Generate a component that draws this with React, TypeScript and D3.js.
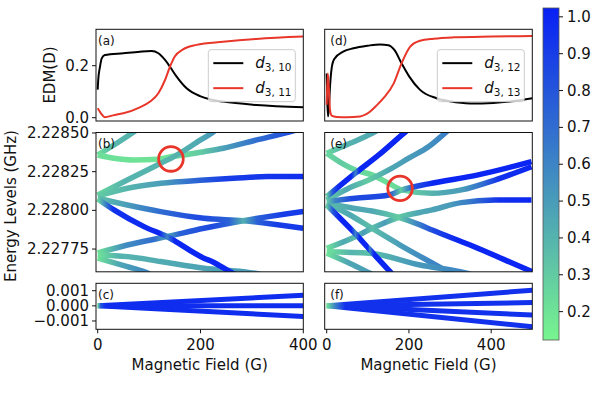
import React from "react";
import * as d3 from "d3";

type Pt = [number, number];

// EDM (D) against magnetic field (G) -- panels (a) and (d)
const d310: Pt[] = [[0, 0.108], [1.2, 0.15], [4.5, 0.196], [7.8, 0.228], [14, 0.241], [50, 0.248], [82, 0.254], [105, 0.2565], [118, 0.248], [131, 0.222], [140.6, 0.196], [153.6, 0.158], [173, 0.113], [199, 0.083], [218, 0.071], [244, 0.062], [309, 0.049], [400, 0.04]];
const d311: Pt[] = [[0, 0.036], [6, 0.018], [14, 0.002], [30, 0.009], [50, 0.017], [82, 0.04], [102, 0.062], [118, 0.094], [131, 0.145], [140.6, 0.196], [150, 0.235], [166, 0.263], [192, 0.28], [244, 0.292], [309, 0.303], [400, 0.312]];
const d312: Pt[] = [[0, 0.17], [1.5, 0.06], [3, 0.005], [5, 0.03], [8, 0.12], [12, 0.19], [18, 0.225], [40, 0.254], [65, 0.267], [100, 0.277], [130, 0.282], [150, 0.279], [165, 0.26], [182, 0.209], [200, 0.16], [227, 0.107], [267, 0.075], [300, 0.063], [349, 0.055], [405, 0.057], [450, 0.063], [500, 0.075]];
const d313: Pt[] = [[0, 0.05], [2.5, 0.17], [5, 0.12], [8, 0.03], [12, 0.008], [24, 0.003], [50, 0.002], [81, 0.005], [105, 0.023], [120, 0.045], [138, 0.075], [163, 0.132], [182, 0.209], [203, 0.273], [227, 0.296], [260, 0.304], [308, 0.309], [400, 0.312], [500, 0.314]];

// energy levels (GHz) vs field (G), panel (b); every level has a colour track [G, value]
const b1: Pt[] = [[0, 2.228358], [30, 2.228419], [60, 2.228484], [90, 2.228552]];
const b1c: Pt[] = [[0, 0.22], [30, 0.38], [90, 0.42]];
const b2: Pt[] = [[0, 2.228358], [31.7, 2.228337], [70.6, 2.228326], [115.9, 2.22833], [141.9, 2.228347], [167.8, 2.228358], [206.9, 2.228379], [244.2, 2.228401], [309.2, 2.228455], [373.9, 2.228508], [393.4, 2.228526]];
const b2c: Pt[] = [[0, 0.22], [70, 0.2], [140, 0.2], [200, 0.3], [250, 0.5], [310, 0.7], [390, 0.85]];
const b3: Pt[] = [[0, 2.228099], [57.6, 2.228196], [122.5, 2.228304], [148.4, 2.228347], [200.3, 2.228455], [222.2, 2.2285], [237.8, 2.228539]];
const b3c: Pt[] = [[0, 0.25], [50, 0.4], [150, 0.4], [200, 0.45], [237, 0.55]];
const b4: Pt[] = [[0, 2.228093], [58, 2.228143], [123, 2.228175], [208, 2.228196], [264, 2.228207], [329, 2.228218], [400, 2.228219]];
const b4c: Pt[] = [[0, 0.3], [60, 0.4], [130, 0.5], [180, 0.7], [250, 0.9], [400, 0.97]];
const b5: Pt[] = [[0, 2.228078], [57.6, 2.228035], [122.5, 2.227992], [206.7, 2.227949], [283.1, 2.227933], [399.8, 2.227884]];
const b5c: Pt[] = [[0, 0.35], [60, 0.5], [120, 0.7], [200, 0.85], [255, 0.75], [283, 0.42], [310, 0.75], [350, 0.9], [400, 0.92]];
const b6: Pt[] = [[0, 2.227725], [57.6, 2.227776], [135.3, 2.227831], [206.7, 2.227884], [283.1, 2.227933], [399.8, 2.227992]];
const b6c: Pt[] = [[0, 0.2], [50, 0.55], [110, 0.7], [135, 0.45], [160, 0.75], [220, 0.85], [255, 0.75], [283, 0.42], [310, 0.75], [360, 0.9], [400, 0.92]];
const b7: Pt[] = [[0, 2.228074], [31.7, 2.228003], [90, 2.227895], [135.3, 2.22783], [206.7, 2.227691], [224.3, 2.227667], [257.3, 2.227604], [276.7, 2.22757]];
const b7c: Pt[] = [[0, 0.25], [15, 0.6], [30, 0.95], [120, 1], [135, 0.6], [150, 1], [277, 1]];
const b8: Pt[] = [[0, 2.227712], [57.6, 2.227701], [122.5, 2.227669], [206.7, 2.227626], [283.1, 2.227604], [315.6, 2.227589]];
const b8c: Pt[] = [[0, 0.2], [40, 0.4], [150, 0.45], [300, 0.5]];
const b9: Pt[] = [[0, 2.227691], [57.6, 2.227636], [90, 2.227604], [101.7, 2.227589]];
const b9c: Pt[] = [[0, 0.2], [40, 0.45], [100, 0.6]];

// panel (e)
const e1: Pt[] = [[0, 2.228369], [56.7, 2.228433], [110.3, 2.228498], [129.7, 2.228526]];
const e1c: Pt[] = [[0, 0.25], [40, 0.4], [130, 0.45]];
const e2: Pt[] = [[0, 2.228369], [37.2, 2.228304], [69.6, 2.228261], [110.3, 2.228229], [150.9, 2.228175], [183.3, 2.228132], [256.3, 2.22811], [327.7, 2.228132], [409, 2.228196], [498, 2.228282]];
const e2c: Pt[] = [[0, 0.25], [37, 0.3], [70, 0.25], [150, 0.22], [183, 0.25], [230, 0.35], [280, 0.45], [330, 0.5], [380, 0.7], [420, 0.95], [498, 1]];
const e3: Pt[] = [[0, 2.228088], [69.6, 2.22824], [126.6, 2.228358], [187.4, 2.228498], [202.8, 2.228532]];
const e3c: Pt[] = [[0, 0.3], [15, 0.8], [30, 1], [60, 1], [70, 0.6], [80, 1], [203, 1]];
const e4: Pt[] = [[0, 2.228067], [53.6, 2.228143], [102.2, 2.228196], [150.9, 2.228261], [199.6, 2.228337], [248.3, 2.228412], [287.2, 2.228498], [305, 2.228539]];
const e4c: Pt[] = [[0, 0.3], [50, 0.45], [102, 0.3], [150, 0.45], [250, 0.55], [305, 0.65]];
const e5: Pt[] = [[0, 2.228056], [69.6, 2.228078], [150.9, 2.228099], [183.3, 2.228132], [247.6, 2.228171], [368.3, 2.228229], [498, 2.228315]];
const e5c: Pt[] = [[0, 0.3], [20, 0.6], [60, 0.85], [150, 0.85], [180, 0.3], [210, 0.8], [260, 1], [498, 1]];
const e7: Pt[] = [[0, 2.228046], [64.8, 2.228014], [110.3, 2.227996], [175.3, 2.227955], [227.1, 2.227906], [256.3, 2.227873], [348.8, 2.227776], [490, 2.227615], [507, 2.227596]];
const e7c: Pt[] = [[0, 0.35], [60, 0.45], [110, 0.45], [175, 0.3], [220, 0.6], [260, 0.85], [320, 1], [507, 1]];
const e8: Pt[] = [[0, 2.227755], [69.6, 2.22783], [110.3, 2.227884], [175.3, 2.227955], [256.3, 2.228003], [327, 2.22805], [409, 2.228067], [498, 2.228067]];
const e8c: Pt[] = [[0, 0.2], [40, 0.45], [70, 0.35], [90, 0.5], [110, 0.35], [140, 0.5], [175, 0.3], [220, 0.45], [300, 0.5], [350, 0.65], [420, 0.95], [498, 1]];
const e9: Pt[] = [[0, 2.228035], [64.8, 2.227862], [105.4, 2.227744], [154.1, 2.227604], [168.7, 2.227563]];
const e9c: Pt[] = [[0, 0.3], [15, 0.8], [30, 1], [60, 1], [70, 0.6], [80, 1], [100, 1], [105, 0.6], [115, 1], [169, 1]];
const e10: Pt[] = [[0, 2.227733], [105.4, 2.227723], [227.1, 2.227647], [324.5, 2.227604], [348.8, 2.227589]];
const e10c: Pt[] = [[0, 0.2], [60, 0.4], [105, 0.35], [200, 0.5], [340, 0.6]];
const e11: Pt[] = [[0, 2.227723], [64.8, 2.227647], [97.4, 2.227604], [110.3, 2.227589]];
const e11c: Pt[] = [[0, 0.2], [50, 0.45], [110, 0.5]];
const e13: Pt[] = [[0, 2.228046], [56.7, 2.22797], [110.3, 2.227884], [178.4, 2.227776], [256.3, 2.22766], [295.2, 2.227604], [305, 2.227589]];
const e13c: Pt[] = [[0, 0.35], [56, 0.45], [110, 0.35], [180, 0.5], [256, 0.6], [305, 0.6]];

// hyperfine splitting around zero (GHz), panels (c) and (f)
const c1: Pt[] = [[0, 0], [400, 0.0007]];
const c2: Pt[] = [[0, 0], [400, 0]];
const c3: Pt[] = [[0, 0], [400, -0.0007]];
const cCol: Pt[] = [[0, 0.25], [6, 0.8], [15, 0.97]];
const f1: Pt[] = [[0, 0], [500, 0.00103]];
const f2: Pt[] = [[0, 0], [500, 0.00022]];
const f3: Pt[] = [[0, 0], [500, -0.00061]];
const f4: Pt[] = [[0, 0], [500, -0.00138]];
const fCol: Pt[] = [[0, 0.2], [20, 0.6], [45, 0.95]];

const levelsB: [Pt[], Pt[]][] = [[b1, b1c], [b2, b2c], [b3, b3c], [b4, b4c], [b5, b5c], [b6, b6c], [b8, b8c], [b9, b9c], [b7, b7c]];
const levelsE: [Pt[], Pt[]][] = [[e1, e1c], [e2, e2c], [e4, e4c], [e13, e13c], [e10, e10c], [e11, e11c], [e8, e8c], [e7, e7c], [e5, e5c], [e3, e3c], [e9, e9c]];
const levelsC: [Pt[], Pt[]][] = [[c1, cCol], [c2, cCol], [c3, cCol]];
const levelsF: [Pt[], Pt[]][] = [[f1, fCol], [f2, fCol], [f3, fCol], [f4, fCol]];

// marked avoided crossings
const circleB: Pt = [142.5, 2.228332];
const circleE: Pt = [178.4, 2.228142];

const edmTicks = [0, 0.2];
const energyTicks = [2.22775, 2.228, 2.22825, 2.2285];
const smallTicks = [-0.001, 0, 0.001];
const fieldTicks = [0, 200, 400];
const cbarTicks = [0.2, 0.3, 0.4, 0.5, 0.6, 0.7, 0.8, 0.9, 1.0];

const FONT = "'DejaVu Sans', sans-serif";
const FS = 15;
const RED = "#e8372a";
const VMIN = 0.123;
const VMAX = 1.024;

const cmap = d3
  .scaleLinear<string>()
  .domain([VMIN, VMAX])
  .range(["#78f58e", "#0820f5"])
  .interpolate(d3.interpolateRgb)
  .clamp(true);

function Levels({ id, lines, x, y, sw }: any) {
  const gen = d3
    .line<Pt>()
    .x((d) => x(d[0]))
    .y((d) => y(d[1]))
    .curve(d3.curveMonotoneX);
  return (
    <g>
      <defs>
        {lines.map(([, col]: [Pt[], Pt[]], i: number) => {
          const x1 = x(col[0][0]);
          const x2 = x(col[col.length - 1][0]);
          return (
            <linearGradient key={i} id={`${id}${i}`} gradientUnits="userSpaceOnUse" x1={x1} x2={x2} y1={0} y2={0}>
              {col.map(([g, v], j) => (
                <stop key={j} offset={(x(g) - x1) / (x2 - x1)} stopColor={cmap(v)} />
              ))}
            </linearGradient>
          );
        })}
      </defs>
      {lines.map(([pts]: [Pt[], Pt[]], i: number) => (
        <path key={i} d={gen(pts) || ""} fill="none" stroke={`url(#${id}${i})`} strokeWidth={sw} />
      ))}
    </g>
  );
}

function Frame({ x, y }: any) {
  const [x0, x1] = x.range();
  const [y1, y0] = y.range();
  return <rect x={x0} y={y0} width={x1 - x0} height={y1 - y0} fill="none" stroke="#111" strokeWidth={1} />;
}

function YTicks({ x, y, ticks, fmt }: any) {
  const x0 = x.range()[0];
  return (
    <g>
      {ticks.map((t: number) => (
        <g key={t}>
          <line x1={x0 - 4} x2={x0} y1={y(t)} y2={y(t)} stroke="#111" strokeWidth={1} />
          <text x={x0 - 7} y={y(t)} textAnchor="end" dominantBaseline="central" fontSize={FS}>
            {fmt(t)}
          </text>
        </g>
      ))}
    </g>
  );
}

function XTicks({ x, y }: any) {
  const yb = y.range()[0];
  return (
    <g>
      {fieldTicks.map((t) => (
        <g key={t}>
          <line x1={x(t)} x2={x(t)} y1={yb} y2={yb + 4} stroke="#111" strokeWidth={1} />
          <text x={x(t)} y={yb + 20.5} textAnchor="middle" fontSize={FS}>
            {t}
          </text>
        </g>
      ))}
      <text x={(x.range()[0] + x.range()[1]) / 2} y={370} textAnchor="middle" fontSize={FS}>
        Magnetic Field (G)
      </text>
    </g>
  );
}

function Legend({ x, y, names }: any) {
  const right = x.range()[1] - 8;
  const cy = (y.range()[0] + y.range()[1]) / 2;
  const w = 87;
  const h = 52;
  const bx = right - w;
  const by = cy - h / 2 + 0.5;
  const cols = ["#000", RED];
  return (
    <g>
      <rect x={bx} y={by} width={w} height={h} rx={3} fill="#fff" fillOpacity={0.8} stroke="#ccc" strokeWidth={1} />
      {names.map((n: string, i: number) => {
        const ly = by + 13.5 + i * 25;
        return (
          <g key={n}>
            <line x1={bx + 5} x2={bx + 35} y1={ly} y2={ly} stroke={cols[i]} strokeWidth={2} />
            <text x={bx + 47} y={ly + 5} fontSize={FS}>
              <tspan fontStyle="italic">d</tspan>
              <tspan dy={3} fontSize={10.5}>{n}</tspan>
            </text>
          </g>
        );
      })}
    </g>
  );
}

export default function App() {
  const xL = d3.scaleLinear().domain([-3.3, 400]).range([96, 303.3]);
  const xR = d3.scaleLinear().domain([-4.9, 500]).range([324.7, 532.3]);
  const yA = d3.scaleLinear().domain([-0.0127, 0.34]).range([121, 29.3]);
  const yB = d3.scaleLinear().domain([2.227603, 2.228503]).range([271.8, 132.5]);
  const yC = d3.scaleLinear().domain([-0.00155, 0.00149]).range([329.3, 283.3]);
  const yCb = d3.scaleLinear().domain([VMIN, VMAX]).range([340, 8]);

  const edm = (x: any) =>
    d3
      .line<Pt>()
      .x((d) => x(d[0]))
      .y((d) => yA(d[1]))
      .curve(d3.curveMonotoneX);

  const panels = [
    { key: "a", x: xL, y: yA },
    { key: "b", x: xL, y: yB },
    { key: "c", x: xL, y: yC },
    { key: "d", x: xR, y: yA },
    { key: "e", x: xR, y: yB },
    { key: "f", x: xR, y: yC },
  ];

  const clip = (p: any) => {
    const [x0, x1] = p.x.range();
    const [y1, y0] = p.y.range();
    return (
      <clipPath id={`clip-${p.key}`} key={p.key}>
        <rect x={x0} y={y0} width={x1 - x0} height={y1 - y0} />
      </clipPath>
    );
  };

  const cbStops = d3.range(0, 1.0001, 0.1);

  return (
    <svg
      width={610}
      height={393}
      style={{ position: "absolute", left: 0, top: 0, background: "#fff" }}
      fontFamily={FONT}
      fill="#111"
    >
      <defs>
        {panels.map(clip)}
        <linearGradient id="cbar" x1={0} x2={0} y1={1} y2={0}>
          {cbStops.map((t) => (
            <stop key={t} offset={t} stopColor={cmap(VMIN + t * (VMAX - VMIN))} />
          ))}
        </linearGradient>
      </defs>

      {/* (a) and (d): EDM */}
      <g clipPath="url(#clip-a)">
        <path d={edm(xL)(d310) || ""} fill="none" stroke="#000" strokeWidth={2} />
        <path d={edm(xL)(d311) || ""} fill="none" stroke={RED} strokeWidth={2} />
      </g>
      <g clipPath="url(#clip-d)">
        <path d={edm(xR)(d312) || ""} fill="none" stroke="#000" strokeWidth={2} />
        <path d={edm(xR)(d313) || ""} fill="none" stroke={RED} strokeWidth={2} />
      </g>
      <Legend x={xL} y={yA} names={["3, 10", "3, 11"]} />
      <Legend x={xR} y={yA} names={["3, 12", "3, 13"]} />

      {/* (b) and (e): energy levels */}
      <g clipPath="url(#clip-b)">
        <Levels id="gb" lines={levelsB} x={xL} y={yB} sw={5.5} />
        <circle cx={xL(circleB[0])} cy={yB(circleB[1])} r={12.3} fill="none" stroke={RED} strokeWidth={2.8} />
      </g>
      <g clipPath="url(#clip-e)">
        <Levels id="ge" lines={levelsE} x={xR} y={yB} sw={5.5} />
        <circle cx={xR(circleE[0])} cy={yB(circleE[1])} r={12.3} fill="none" stroke={RED} strokeWidth={2.8} />
      </g>

      {/* (c) and (f): splitting near zero */}
      <g clipPath="url(#clip-c)">
        <Levels id="gc" lines={levelsC} x={xL} y={yC} sw={5} />
      </g>
      <g clipPath="url(#clip-f)">
        <Levels id="gf" lines={levelsF} x={xR} y={yC} sw={5} />
      </g>

      {panels.map((p) => (
        <Frame key={p.key} x={p.x} y={p.y} />
      ))}

      {panels.map((p) => (
        <text
          key={p.key}
          x={p.x.range()[0] + (p.x === xL ? 2 : 5.5)}
          y={p.y.range()[1] + 15.5}
          fontSize={12}
        >
          ({p.key})
        </text>
      ))}

      <YTicks x={xL} y={yA} ticks={edmTicks} fmt={d3.format(".1f")} />
      <YTicks x={xL} y={yB} ticks={energyTicks} fmt={d3.format(".5f")} />
      <YTicks x={xL} y={yC} ticks={smallTicks} fmt={d3.format(".3f")} />
      <XTicks x={xL} y={yC} />
      <XTicks x={xR} y={yC} />

      <text transform="translate(50,75) rotate(-90)" textAnchor="middle" dominantBaseline="central" fontSize={FS}>
        EDM(D)
      </text>
      <text transform="translate(11,206) rotate(-90)" textAnchor="middle" dominantBaseline="central" fontSize={FS}>
        Energy Levels (GHz)
      </text>

      {/* colour bar */}
      <rect x={543} y={yCb(VMAX)} width={16} height={yCb(VMIN) - yCb(VMAX)} fill="url(#cbar)" stroke="#555" strokeWidth={0.8} />
      {cbarTicks.map((t) => (
        <g key={t}>
          <line x1={559} x2={563} y1={yCb(t)} y2={yCb(t)} stroke="#111" strokeWidth={1} />
          <text x={567} y={yCb(t)} dominantBaseline="central" fontSize={FS}>
            {d3.format(".1f")(t)}
          </text>
        </g>
      ))}
    </svg>
  );
}
